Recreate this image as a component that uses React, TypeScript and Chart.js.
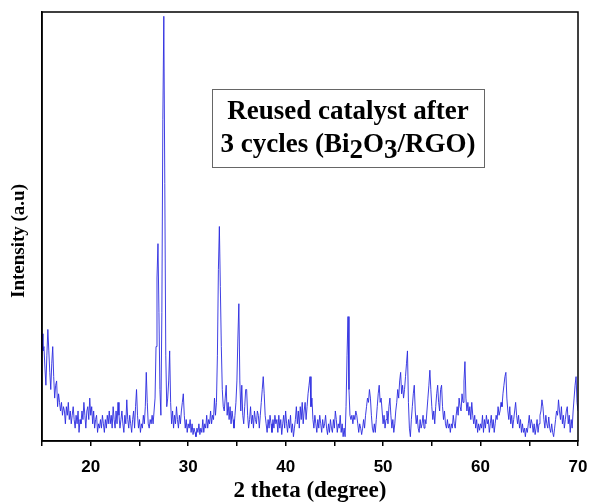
import { useEffect, useRef } from "react";
import { Chart, registerables } from "chart.js";

Chart.register(...registerables);

// 2-theta sampling grid (degrees)
const X_START = 15;
const X_STEP = 0.1;

// Intensity (a.u., % of full scale), 0.1° apart
const intensity15to25 = [
  25, 21, 22, 17, 13, 20, 26, 21, 16, 12,
  18, 22, 15, 10, 13, 14, 8, 11, 9, 7,
  9, 6, 8, 7, 4, 8, 6, 9, 5, 7,
  4, 6, 8, 5, 3, 6, 4, 7, 2, 5,
  4, 7, 5, 9, 6, 3, 7, 8, 5, 10,
  6, 8, 4, 7, 3, 5, 6, 2, 4, 3,
  5, 3, 6, 4, 2, 5, 3, 6, 4, 7,
  4, 6, 3, 8, 5, 3, 7, 4, 9, 6,
  3, 5, 7, 4, 2, 6, 4, 9.6, 5, 3,
  6, 4, 2, 5, 7, 3, 8, 12, 6, 3,
];
const intensity25to35 = [
  5, 2, 4, 3, 6, 4, 8, 16, 9, 4,
  3, 5, 4, 6, 4, 7, 10, 22, 38, 46,
  30, 12, 6, 30, 75, 99, 60, 20, 8, 10,
  14, 21, 9, 4, 7, 3, 6, 4, 8, 5,
  3, 6, 4, 7, 9, 11, 6, 3, 5, 2,
  4, 3, 5, 2, 4, 1.5, 3, 2, 1, 3,
  2, 4, 1.5, 3, 2, 5, 2, 4, 3, 6,
  3, 5, 4, 7, 4, 6, 5, 10, 6, 9,
  20, 40, 50, 36, 22, 12, 8, 7, 10, 13,
  6, 9, 5, 8, 4, 7, 5, 3, 6, 9,
];
const intensity35to45 = [
  14, 24, 32, 14, 7, 13, 6, 4, 8, 12,
  12, 6, 3, 5, 8, 4, 6, 3, 7, 5,
  4, 7, 6, 3, 6, 9, 12, 15, 11, 6,
  4, 2, 5, 3, 6, 4, 2, 5, 3, 6,
  4, 5, 2, 6, 3, 5, 1.5, 4, 6, 3,
  7, 4, 2, 5, 3, 6, 2, 4, 1, 3,
  5, 8, 4, 7, 3, 8, 5, 9, 4, 7,
  9, 5, 8, 11, 13, 15, 8, 10, 5, 3,
  6, 4, 2, 5, 3, 6, 4, 2, 5, 3,
  4, 6, 3, 1.5, 4, 2, 5, 3, 2, 5,
];
const intensity45to55 = [
  3, 7, 5, 2, 4, 3, 6, 2, 4, 1,
  3, 1, 8, 20, 29, 12, 6, 5, 6, 4,
  6, 5, 7, 6, 4, 2, 4, 3, 1.5, 3,
  5, 3, 6, 8, 10, 9, 12, 10, 6, 3,
  2, 4, 2, 5, 8, 11, 13, 9, 10, 7,
  4, 6, 3, 5, 7, 4, 8, 10, 6, 3,
  5, 2, 4, 7, 9, 12, 10, 14, 16, 11,
  13, 10, 12, 15, 18, 21, 9, 3, 1, 5,
  8, 11, 13, 7, 4, 6, 3, 2, 5, 3,
  4, 6, 3, 5, 4, 7, 10, 13, 16.5, 12,
];
const intensity55to70 = [
  8, 5, 7, 4, 8, 11, 13, 9, 7, 12,
  13, 8, 5, 7, 4, 3, 5, 3, 4, 2,
  4, 3, 6, 4, 3, 6, 8, 6, 10, 8,
  7, 11, 9, 14, 18.5, 10, 7, 9, 6, 8,
  5, 9, 6, 4, 6, 3, 5, 2, 4, 2.5,
  4, 3, 6, 2, 5, 3, 6, 4, 5, 2,
  4, 6, 3, 5, 2, 4, 6, 5, 8, 6,
  7, 9, 8, 11, 13, 15, 16, 10, 7, 5,
  8, 4, 6, 3, 5, 7, 9, 6, 4, 6,
  3, 5, 2, 4, 2, 3, 1, 3, 2, 4,
  6, 3, 5, 4, 2, 4, 1.5, 3, 5, 2,
  4, 6, 7, 9.6, 8, 5, 3, 6, 4, 3,
  5.6, 3, 2, 4, 2, 1, 3, 5, 7, 6,
  9.6, 7, 5, 8, 4, 6, 3, 5, 7, 8,
  4, 6, 2, 5, 3, 7, 10, 13, 15, 9,
  7,
];

const xTickLabels = [20, 30, 40, 50, 60, 70];
const xMinorTicks = [15, 25, 35, 45, 55, 65];
const xTitle = "2 theta (degree)";
const yTitle = "Intensity (a.u)";
const boxLine1 = "Reused catalyst after";
const boxLine2Parts: { t: string; sub: boolean }[] = [
  { t: "3 cycles (Bi", sub: false },
  { t: "2", sub: true },
  { t: "O", sub: false },
  { t: "3", sub: true },
  { t: "/RGO)", sub: false },
];

const allIntensity = [
  ...intensity15to25,
  ...intensity25to35,
  ...intensity35to45,
  ...intensity45to55,
  ...intensity55to70,
];

const SERIF = "'Liberation Serif', 'Times New Roman', serif";

const decorPlugin = {
  id: "decor",
  afterDraw(chart: any) {
    const { ctx, chartArea } = chart;
    const { left, right, top, bottom } = chartArea;
    ctx.save();
    // frame
    ctx.strokeStyle = "#000";
    ctx.lineWidth = 1.5;
    ctx.strokeRect(left, top, right - left, bottom - top);

    // axis titles
    ctx.fillStyle = "#000";
    ctx.textAlign = "center";
    ctx.textBaseline = "middle";
    ctx.font = `bold 23px ${SERIF}`;
    ctx.fillText(xTitle, 310, 491);

    ctx.save();
    ctx.translate(19, 241);
    ctx.rotate(-Math.PI / 2);
    ctx.font = `bold 19px ${SERIF}`;
    ctx.fillText(yTitle, 0, 0);
    ctx.restore();

    // annotation box
    const bx = 212, by = 89, bw = 272, bh = 78;
    ctx.strokeStyle = "#666";
    ctx.lineWidth = 1;
    ctx.strokeRect(bx + 0.5, by + 0.5, bw, bh);
    const cx = bx + bw / 2;
    ctx.font = `bold 27px ${SERIF}`;
    ctx.textBaseline = "alphabetic";
    ctx.textAlign = "center";
    ctx.fillText(boxLine1, cx, 119);

    ctx.textAlign = "left";
    let total = 0;
    for (const p of boxLine2Parts) total += ctx.measureText(p.t).width;
    let x = cx - total / 2;
    for (const p of boxLine2Parts) {
      ctx.fillText(p.t, x, p.sub ? 158 : 152);
      x += ctx.measureText(p.t).width;
    }
    ctx.restore();
  },
};

export default function App() {
  const ref = useRef<HTMLCanvasElement | null>(null);

  useEffect(() => {
    document.body.style.margin = "0";
    const canvas = ref.current;
    if (!canvas) return;
    const points = allIntensity.map((v, i) => ({
      x: Math.round((X_START + i * X_STEP) * 10) / 10,
      y: v,
    }));
    const chart = new Chart(canvas, {
      type: "line",
      data: {
        datasets: [
          {
            data: points,
            borderColor: "#2a2ae0",
            borderWidth: 0.9,
            pointRadius: 0,
            tension: 0,
            fill: false,
          },
        ],
      },
      options: {
        animation: false,
        responsive: false,
        maintainAspectRatio: false,
        layout: { padding: { left: 0, right: 13, top: 12, bottom: 0 } },
        plugins: {
          legend: { display: false },
          tooltip: { enabled: false },
          title: { display: false },
        },
        scales: {
          x: {
            type: "linear",
            min: 15,
            max: 70,
            afterFit: (s: any) => {
              s.height = 61;
              s.paddingLeft = 0;
              s.paddingRight = 0;
            },
            afterBuildTicks: (s: any) => {
              const vals = [...xMinorTicks, ...xTickLabels].sort((a, b) => a - b);
              s.ticks = vals.map((v) => ({ value: v }));
            },
            ticks: {
              autoSkip: false,
              maxRotation: 0,
              padding: 11,
              color: "#000",
              font: { family: "'Liberation Sans', Arial, sans-serif", weight: "bold", size: 17 },
              callback: (v: any) => (xTickLabels.includes(Number(v)) ? String(v) : ""),
            },
            grid: {
              display: true,
              drawOnChartArea: false,
              drawTicks: true,
              tickLength: 5,
              color: "#000",
              lineWidth: 1.5,
            },
            border: { display: true, color: "#000", width: 1.5 },
          },
          y: {
            min: 0,
            max: 100,
            afterFit: (s: any) => {
              s.width = 42;
              s.paddingTop = 0;
              s.paddingBottom = 0;
            },
            ticks: { display: false },
            grid: { display: false, drawTicks: false },
            border: { display: true, color: "#000", width: 1.5 },
          },
        },
      },
      plugins: [decorPlugin],
    });
    return () => chart.destroy();
  }, []);

  return (
    <div style={{ width: 591, height: 502, background: "#fff" }}>
      <canvas ref={ref} width={591} height={502} style={{ display: "block" }} />
    </div>
  );
}
